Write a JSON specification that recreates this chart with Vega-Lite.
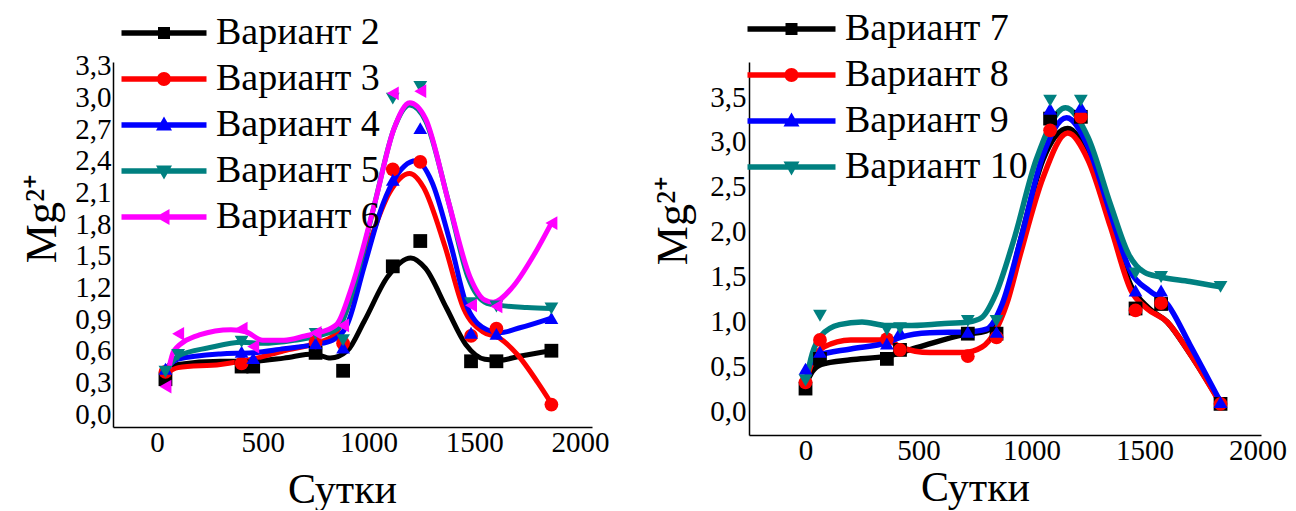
{
  "$schema": "https://vega.github.io/schema/vega-lite/v6.json",
  "autosize": {"type": "pad"},
  "padding": {"left": 20, "top": 10, "right": 0, "bottom": 0},
  "background": "white",
  "bounds": "flush",
  "spacing": 157,
  "resolve": {"scale": {"color": "independent", "shape": "independent"}, "legend": {"color": "independent", "shape": "independent"}},
  "config": {
    "view": {"stroke": null},
    "font": "Liberation Serif",
    "axis": {
      "labelFont": "Liberation Serif", "labelFontSize": 29, "labelColor": "#000000",
      "titleFont": "Liberation Serif", "titleFontWeight": "normal", "titleColor": "#000000",
      "domainColor": "#000000", "domainWidth": 1.5, "ticks": false, "grid": false,
      "labelOverlap": false, "labelFlush": false, "labelBound": false
    },
    "legend": {"labelFont": "Liberation Serif"}
  },
  "datasets": {
    "pointsL": [
      {"s": "Вариант 2", "d": 40, "v": 0.33}, {"s": "Вариант 2", "d": 400, "v": 0.45}, {"s": "Вариант 2", "d": 455, "v": 0.45}, {"s": "Вариант 2", "d": 750, "v": 0.58}, {"s": "Вариант 2", "d": 880, "v": 0.41}, {"s": "Вариант 2", "d": 1115, "v": 1.40}, {"s": "Вариант 2", "d": 1245, "v": 1.64}, {"s": "Вариант 2", "d": 1485, "v": 0.50}, {"s": "Вариант 2", "d": 1605, "v": 0.50}, {"s": "Вариант 2", "d": 1865, "v": 0.60},
      {"s": "Вариант 3", "d": 40, "v": 0.40}, {"s": "Вариант 3", "d": 400, "v": 0.48}, {"s": "Вариант 3", "d": 750, "v": 0.68}, {"s": "Вариант 3", "d": 880, "v": 0.67}, {"s": "Вариант 3", "d": 1115, "v": 2.32}, {"s": "Вариант 3", "d": 1245, "v": 2.39}, {"s": "Вариант 3", "d": 1485, "v": 0.74}, {"s": "Вариант 3", "d": 1605, "v": 0.81}, {"s": "Вариант 3", "d": 1865, "v": 0.09},
      {"s": "Вариант 4", "d": 40, "v": 0.43}, {"s": "Вариант 4", "d": 400, "v": 0.59}, {"s": "Вариант 4", "d": 455, "v": 0.53}, {"s": "Вариант 4", "d": 750, "v": 0.67}, {"s": "Вариант 4", "d": 880, "v": 0.63}, {"s": "Вариант 4", "d": 1115, "v": 2.22}, {"s": "Вариант 4", "d": 1245, "v": 2.71}, {"s": "Вариант 4", "d": 1485, "v": 0.77}, {"s": "Вариант 4", "d": 1605, "v": 0.76}, {"s": "Вариант 4", "d": 1865, "v": 0.91},
      {"s": "Вариант 5", "d": 40, "v": 0.40}, {"s": "Вариант 5", "d": 100, "v": 0.56}, {"s": "Вариант 5", "d": 400, "v": 0.685}, {"s": "Вариант 5", "d": 750, "v": 0.76}, {"s": "Вариант 5", "d": 880, "v": 0.70}, {"s": "Вариант 5", "d": 1115, "v": 2.99}, {"s": "Вариант 5", "d": 1245, "v": 3.10}, {"s": "Вариант 5", "d": 1485, "v": 1.05}, {"s": "Вариант 5", "d": 1605, "v": 1.02}, {"s": "Вариант 5", "d": 1865, "v": 1.00},
      {"s": "Вариант 6", "d": 40, "v": 0.26}, {"s": "Вариант 6", "d": 100, "v": 0.76}, {"s": "Вариант 6", "d": 400, "v": 0.81}, {"s": "Вариант 6", "d": 455, "v": 0.64}, {"s": "Вариант 6", "d": 750, "v": 0.77}, {"s": "Вариант 6", "d": 880, "v": 0.84}, {"s": "Вариант 6", "d": 1115, "v": 3.04}, {"s": "Вариант 6", "d": 1245, "v": 3.06}, {"s": "Вариант 6", "d": 1485, "v": 1.03}, {"s": "Вариант 6", "d": 1605, "v": 1.02}, {"s": "Вариант 6", "d": 1865, "v": 1.81}
    ],
    "curveL": [
      {"s": "Вариант 2", "d": 40, "v": 0.36}, {"s": "Вариант 2", "d": 100, "v": 0.47}, {"s": "Вариант 2", "d": 300, "v": 0.50}, {"s": "Вариант 2", "d": 450, "v": 0.50}, {"s": "Вариант 2", "d": 600, "v": 0.53}, {"s": "Вариант 2", "d": 740, "v": 0.57}, {"s": "Вариант 2", "d": 820, "v": 0.53}, {"s": "Вариант 2", "d": 900, "v": 0.60}, {"s": "Вариант 2", "d": 980, "v": 0.88}, {"s": "Вариант 2", "d": 1090, "v": 1.30}, {"s": "Вариант 2", "d": 1200, "v": 1.48}, {"s": "Вариант 2", "d": 1270, "v": 1.38}, {"s": "Вариант 2", "d": 1370, "v": 1.00}, {"s": "Вариант 2", "d": 1460, "v": 0.66}, {"s": "Вариант 2", "d": 1550, "v": 0.52}, {"s": "Вариант 2", "d": 1620, "v": 0.51}, {"s": "Вариант 2", "d": 1720, "v": 0.55}, {"s": "Вариант 2", "d": 1865, "v": 0.60},
      {"s": "Вариант 3", "d": 40, "v": 0.38}, {"s": "Вариант 3", "d": 100, "v": 0.44}, {"s": "Вариант 3", "d": 300, "v": 0.47}, {"s": "Вариант 3", "d": 450, "v": 0.52}, {"s": "Вариант 3", "d": 600, "v": 0.60}, {"s": "Вариант 3", "d": 750, "v": 0.67}, {"s": "Вариант 3", "d": 840, "v": 0.75}, {"s": "Вариант 3", "d": 900, "v": 1.00}, {"s": "Вариант 3", "d": 1000, "v": 1.60}, {"s": "Вариант 3", "d": 1100, "v": 2.10}, {"s": "Вариант 3", "d": 1195, "v": 2.28}, {"s": "Вариант 3", "d": 1260, "v": 2.15}, {"s": "Вариант 3", "d": 1360, "v": 1.60}, {"s": "Вариант 3", "d": 1450, "v": 1.00}, {"s": "Вариант 3", "d": 1540, "v": 0.78}, {"s": "Вариант 3", "d": 1620, "v": 0.72}, {"s": "Вариант 3", "d": 1710, "v": 0.55}, {"s": "Вариант 3", "d": 1800, "v": 0.30}, {"s": "Вариант 3", "d": 1865, "v": 0.10},
      {"s": "Вариант 4", "d": 40, "v": 0.43}, {"s": "Вариант 4", "d": 100, "v": 0.52}, {"s": "Вариант 4", "d": 300, "v": 0.57}, {"s": "Вариант 4", "d": 450, "v": 0.58}, {"s": "Вариант 4", "d": 600, "v": 0.62}, {"s": "Вариант 4", "d": 750, "v": 0.66}, {"s": "Вариант 4", "d": 830, "v": 0.70}, {"s": "Вариант 4", "d": 900, "v": 0.85}, {"s": "Вариант 4", "d": 980, "v": 1.40}, {"s": "Вариант 4", "d": 1070, "v": 2.00}, {"s": "Вариант 4", "d": 1170, "v": 2.35}, {"s": "Вариант 4", "d": 1225, "v": 2.40}, {"s": "Вариант 4", "d": 1300, "v": 2.20}, {"s": "Вариант 4", "d": 1390, "v": 1.60}, {"s": "Вариант 4", "d": 1470, "v": 1.00}, {"s": "Вариант 4", "d": 1560, "v": 0.80}, {"s": "Вариант 4", "d": 1620, "v": 0.77}, {"s": "Вариант 4", "d": 1720, "v": 0.82}, {"s": "Вариант 4", "d": 1865, "v": 0.91},
      {"s": "Вариант 5", "d": 40, "v": 0.40}, {"s": "Вариант 5", "d": 100, "v": 0.55}, {"s": "Вариант 5", "d": 250, "v": 0.63}, {"s": "Вариант 5", "d": 400, "v": 0.68}, {"s": "Вариант 5", "d": 500, "v": 0.67}, {"s": "Вариант 5", "d": 650, "v": 0.70}, {"s": "Вариант 5", "d": 780, "v": 0.75}, {"s": "Вариант 5", "d": 860, "v": 0.82}, {"s": "Вариант 5", "d": 930, "v": 1.20}, {"s": "Вариант 5", "d": 1030, "v": 2.00}, {"s": "Вариант 5", "d": 1120, "v": 2.70}, {"s": "Вариант 5", "d": 1195, "v": 2.93}, {"s": "Вариант 5", "d": 1270, "v": 2.78}, {"s": "Вариант 5", "d": 1380, "v": 2.00}, {"s": "Вариант 5", "d": 1470, "v": 1.30}, {"s": "Вариант 5", "d": 1560, "v": 1.05}, {"s": "Вариант 5", "d": 1620, "v": 1.03}, {"s": "Вариант 5", "d": 1750, "v": 1.01}, {"s": "Вариант 5", "d": 1865, "v": 1.00},
      {"s": "Вариант 6", "d": 40, "v": 0.26}, {"s": "Вариант 6", "d": 80, "v": 0.60}, {"s": "Вариант 6", "d": 200, "v": 0.75}, {"s": "Вариант 6", "d": 350, "v": 0.80}, {"s": "Вариант 6", "d": 420, "v": 0.78}, {"s": "Вариант 6", "d": 500, "v": 0.70}, {"s": "Вариант 6", "d": 600, "v": 0.70}, {"s": "Вариант 6", "d": 700, "v": 0.74}, {"s": "Вариант 6", "d": 780, "v": 0.78}, {"s": "Вариант 6", "d": 850, "v": 0.85}, {"s": "Вариант 6", "d": 920, "v": 1.20}, {"s": "Вариант 6", "d": 1030, "v": 2.00}, {"s": "Вариант 6", "d": 1120, "v": 2.70}, {"s": "Вариант 6", "d": 1195, "v": 2.95}, {"s": "Вариант 6", "d": 1270, "v": 2.80}, {"s": "Вариант 6", "d": 1380, "v": 2.00}, {"s": "Вариант 6", "d": 1480, "v": 1.30}, {"s": "Вариант 6", "d": 1550, "v": 1.08}, {"s": "Вариант 6", "d": 1590, "v": 1.06}, {"s": "Вариант 6", "d": 1680, "v": 1.20}, {"s": "Вариант 6", "d": 1780, "v": 1.50}, {"s": "Вариант 6", "d": 1865, "v": 1.81}
    ],
    "pointsR": [
      {"s": "Вариант 7", "d": 0, "v": 0.26}, {"s": "Вариант 7", "d": 64, "v": 0.59}, {"s": "Вариант 7", "d": 360, "v": 0.59}, {"s": "Вариант 7", "d": 418, "v": 0.69}, {"s": "Вариант 7", "d": 718, "v": 0.87}, {"s": "Вариант 7", "d": 845, "v": 0.87}, {"s": "Вариант 7", "d": 1082, "v": 3.26}, {"s": "Вариант 7", "d": 1218, "v": 3.28}, {"s": "Вариант 7", "d": 1460, "v": 1.15}, {"s": "Вариант 7", "d": 1573, "v": 1.20}, {"s": "Вариант 7", "d": 1836, "v": 0.09},
      {"s": "Вариант 8", "d": 0, "v": 0.33}, {"s": "Вариант 8", "d": 64, "v": 0.80}, {"s": "Вариант 8", "d": 360, "v": 0.81}, {"s": "Вариант 8", "d": 418, "v": 0.69}, {"s": "Вариант 8", "d": 718, "v": 0.62}, {"s": "Вариант 8", "d": 845, "v": 0.83}, {"s": "Вариант 8", "d": 1082, "v": 3.13}, {"s": "Вариант 8", "d": 1218, "v": 3.28}, {"s": "Вариант 8", "d": 1460, "v": 1.13}, {"s": "Вариант 8", "d": 1573, "v": 1.21}, {"s": "Вариант 8", "d": 1836, "v": 0.09},
      {"s": "Вариант 9", "d": 0, "v": 0.48}, {"s": "Вариант 9", "d": 64, "v": 0.67}, {"s": "Вариант 9", "d": 360, "v": 0.76}, {"s": "Вариант 9", "d": 418, "v": 0.89}, {"s": "Вариант 9", "d": 718, "v": 0.89}, {"s": "Вариант 9", "d": 845, "v": 0.89}, {"s": "Вариант 9", "d": 1082, "v": 3.37}, {"s": "Вариант 9", "d": 1218, "v": 3.39}, {"s": "Вариант 9", "d": 1460, "v": 1.35}, {"s": "Вариант 9", "d": 1573, "v": 1.35}, {"s": "Вариант 9", "d": 1836, "v": 0.11},
      {"s": "Вариант 10", "d": 0, "v": 0.35}, {"s": "Вариант 10", "d": 64, "v": 1.07}, {"s": "Вариант 10", "d": 360, "v": 0.91}, {"s": "Вариант 10", "d": 418, "v": 0.93}, {"s": "Вариант 10", "d": 718, "v": 1.01}, {"s": "Вариант 10", "d": 845, "v": 1.01}, {"s": "Вариант 10", "d": 1082, "v": 3.46}, {"s": "Вариант 10", "d": 1218, "v": 3.46}, {"s": "Вариант 10", "d": 1460, "v": 1.54}, {"s": "Вариант 10", "d": 1573, "v": 1.50}, {"s": "Вариант 10", "d": 1836, "v": 1.39}
    ],
    "curveR": [
      {"s": "Вариант 7", "d": 0, "v": 0.30}, {"s": "Вариант 7", "d": 30, "v": 0.45}, {"s": "Вариант 7", "d": 70, "v": 0.53}, {"s": "Вариант 7", "d": 200, "v": 0.58}, {"s": "Вариант 7", "d": 360, "v": 0.62}, {"s": "Вариант 7", "d": 500, "v": 0.72}, {"s": "Вариант 7", "d": 700, "v": 0.86}, {"s": "Вариант 7", "d": 800, "v": 0.90}, {"s": "Вариант 7", "d": 870, "v": 1.10}, {"s": "Вариант 7", "d": 950, "v": 1.90}, {"s": "Вариант 7", "d": 1050, "v": 2.80}, {"s": "Вариант 7", "d": 1160, "v": 3.15}, {"s": "Вариант 7", "d": 1250, "v": 2.85}, {"s": "Вариант 7", "d": 1350, "v": 2.10}, {"s": "Вариант 7", "d": 1440, "v": 1.40}, {"s": "Вариант 7", "d": 1520, "v": 1.15}, {"s": "Вариант 7", "d": 1600, "v": 1.00}, {"s": "Вариант 7", "d": 1700, "v": 0.65}, {"s": "Вариант 7", "d": 1836, "v": 0.10},
      {"s": "Вариант 8", "d": 0, "v": 0.33}, {"s": "Вариант 8", "d": 40, "v": 0.62}, {"s": "Вариант 8", "d": 80, "v": 0.72}, {"s": "Вариант 8", "d": 200, "v": 0.80}, {"s": "Вариант 8", "d": 360, "v": 0.80}, {"s": "Вариант 8", "d": 420, "v": 0.72}, {"s": "Вариант 8", "d": 550, "v": 0.66}, {"s": "Вариант 8", "d": 700, "v": 0.66}, {"s": "Вариант 8", "d": 780, "v": 0.72}, {"s": "Вариант 8", "d": 840, "v": 0.90}, {"s": "Вариант 8", "d": 890, "v": 1.20}, {"s": "Вариант 8", "d": 950, "v": 1.75}, {"s": "Вариант 8", "d": 1050, "v": 2.60}, {"s": "Вариант 8", "d": 1160, "v": 3.10}, {"s": "Вариант 8", "d": 1250, "v": 2.80}, {"s": "Вариант 8", "d": 1350, "v": 2.05}, {"s": "Вариант 8", "d": 1440, "v": 1.35}, {"s": "Вариант 8", "d": 1510, "v": 1.15}, {"s": "Вариант 8", "d": 1600, "v": 1.00}, {"s": "Вариант 8", "d": 1700, "v": 0.65}, {"s": "Вариант 8", "d": 1836, "v": 0.09},
      {"s": "Вариант 9", "d": 0, "v": 0.45}, {"s": "Вариант 9", "d": 50, "v": 0.62}, {"s": "Вариант 9", "d": 200, "v": 0.70}, {"s": "Вариант 9", "d": 360, "v": 0.77}, {"s": "Вариант 9", "d": 420, "v": 0.83}, {"s": "Вариант 9", "d": 550, "v": 0.88}, {"s": "Вариант 9", "d": 720, "v": 0.89}, {"s": "Вариант 9", "d": 800, "v": 0.92}, {"s": "Вариант 9", "d": 870, "v": 1.20}, {"s": "Вариант 9", "d": 950, "v": 1.90}, {"s": "Вариант 9", "d": 1050, "v": 2.85}, {"s": "Вариант 9", "d": 1155, "v": 3.27}, {"s": "Вариант 9", "d": 1250, "v": 2.95}, {"s": "Вариант 9", "d": 1350, "v": 2.20}, {"s": "Вариант 9", "d": 1440, "v": 1.55}, {"s": "Вариант 9", "d": 1520, "v": 1.35}, {"s": "Вариант 9", "d": 1600, "v": 1.20}, {"s": "Вариант 9", "d": 1700, "v": 0.75}, {"s": "Вариант 9", "d": 1836, "v": 0.11},
      {"s": "Вариант 10", "d": 0, "v": 0.32}, {"s": "Вариант 10", "d": 30, "v": 0.65}, {"s": "Вариант 10", "d": 70, "v": 0.85}, {"s": "Вариант 10", "d": 150, "v": 0.97}, {"s": "Вариант 10", "d": 250, "v": 1.00}, {"s": "Вариант 10", "d": 360, "v": 0.96}, {"s": "Вариант 10", "d": 450, "v": 0.96}, {"s": "Вариант 10", "d": 600, "v": 0.98}, {"s": "Вариант 10", "d": 720, "v": 1.00}, {"s": "Вариант 10", "d": 780, "v": 1.05}, {"s": "Вариант 10", "d": 840, "v": 1.30}, {"s": "Вариант 10", "d": 920, "v": 1.90}, {"s": "Вариант 10", "d": 1020, "v": 2.80}, {"s": "Вариант 10", "d": 1150, "v": 3.38}, {"s": "Вариант 10", "d": 1250, "v": 3.05}, {"s": "Вариант 10", "d": 1350, "v": 2.30}, {"s": "Вариант 10", "d": 1430, "v": 1.75}, {"s": "Вариант 10", "d": 1500, "v": 1.55}, {"s": "Вариант 10", "d": 1570, "v": 1.50}, {"s": "Вариант 10", "d": 1700, "v": 1.45}, {"s": "Вариант 10", "d": 1836, "v": 1.39}
    ]
  },
  "hconcat": [
    {
      "width": 479,
      "height": 365,
      "resolve": {"scale": {"color": "independent", "shape": "independent"}},
      "encoding": {
        "x": {"field": "d", "type": "quantitative", "scale": {"domain": [-208, 2057], "nice": false, "zero": false},
          "axis": {"values": [0, 500, 1000, 1500, 2000], "format": "d", "labelFont": "Liberation Serif", "labelFontSize": 29, "labelPadding": 1, "title": "Сутки", "titleFontSize": 42, "titleX": 229, "titleY": 75, "titleBaseline": "alphabetic", "titleAlign": "center", "titleAnchor": null}},
        "y": {"field": "v", "type": "quantitative", "scale": {"domain": [-0.123, 3.337], "nice": false, "zero": false},
          "axis": {"values": [0, 0.3, 0.6, 0.9, 1.2, 1.5, 1.8, 2.1, 2.4, 2.7, 3.0, 3.3], "labelExpr": "replace(format(datum.value, '.1f'), '.', ',')", "labelFont": "Liberation Serif", "labelFontSize": 29, "labelPadding": 2, "title": "Mg²⁺", "titleFontSize": 44, "titleAngle": 270, "titleX": -58, "titleY": 156, "titleBaseline": "alphabetic", "titleAlign": "center", "titleAnchor": null}}
      },
      "layer": [
        {
          "data": {"name": "pointsL"},
          "transform": [{"filter": "datum.v > 100"}],
          "mark": {"type": "point", "filled": true, "size": 400, "opacity": 1},
          "encoding": {
            "color": {"field": "s", "type": "nominal", "scale": {"domain": ["Вариант 2", "Вариант 3", "Вариант 4", "Вариант 5", "Вариант 6"], "range": ["#000000", "#ff0000", "#0000ff", "#008080", "#ff00ff"]},
              "legend": {"orient": "none", "legendX": 32, "legendY": -48, "title": null, "symbolSize": 400, "labelFont": "Liberation Serif", "labelFontSize": 38, "labelColor": "#000000", "labelOffset": 33, "rowPadding": 8, "padding": 0, "labelLimit": 0, "symbolStrokeWidth": 0, "symbolOpacity": 1}},
            "shape": {"field": "s", "type": "nominal", "scale": {"domain": ["Вариант 2", "Вариант 3", "Вариант 4", "Вариант 5", "Вариант 6"], "range": [
                "M-4.25,-0.27H4.25V0.27H-4.25ZM-0.6,-0.6H0.6V0.6H-0.6Z",
                "M-4.25,-0.27H4.25V0.27H-4.25ZM-0.7,0A0.7,0.7,0,1,1,0.7,0A0.7,0.7,0,1,1,-0.7,0Z",
                "M-4.25,-0.27H4.25V0.27H-4.25ZM0,-0.85L0.8,0.55L-0.8,0.55Z",
                "M-4.25,-0.27H4.25V0.27H-4.25ZM0,0.85L-0.8,-0.55L0.8,-0.55Z",
                "M-4.25,-0.27H4.25V0.27H-4.25ZM-0.85,0L0.55,-0.8L0.55,0.8Z"]},
              "legend": {"orient": "none", "legendX": 32, "legendY": -48, "title": null, "symbolSize": 400, "labelFont": "Liberation Serif", "labelFontSize": 38, "labelColor": "#000000", "labelOffset": 33, "rowPadding": 8, "padding": 0, "labelLimit": 0, "symbolStrokeWidth": 0, "symbolOpacity": 1}}
          }
        },
        {
          "data": {"name": "curveL"},
          "mark": {"type": "line", "interpolate": "monotone", "strokeWidth": 5},
          "encoding": {
            "color": {"field": "s", "type": "nominal", "scale": {"domain": ["Вариант 2", "Вариант 3", "Вариант 4", "Вариант 5", "Вариант 6"], "range": ["#000000", "#ff0000", "#0000ff", "#008080", "#ff00ff"]}, "legend": null}
          }
        },
        {
          "data": {"name": "pointsL"},
          "mark": {"type": "point", "filled": true, "size": 190, "opacity": 1},
          "encoding": {
            "color": {"field": "s", "type": "nominal", "scale": {"domain": ["Вариант 2", "Вариант 3", "Вариант 4", "Вариант 5", "Вариант 6"], "range": ["#000000", "#ff0000", "#0000ff", "#008080", "#ff00ff"]}, "legend": null},
            "shape": {"field": "s", "type": "nominal", "scale": {"domain": ["Вариант 2", "Вариант 3", "Вариант 4", "Вариант 5", "Вариант 6"], "range": ["square", "circle", "triangle-up", "triangle-down", "triangle-left"]}, "legend": null}
          }
        }
      ]
    },
    {
      "width": 512,
      "height": 373,
      "resolve": {"scale": {"color": "independent", "shape": "independent"}},
      "encoding": {
        "x": {"field": "d", "type": "quantitative", "scale": {"domain": [-250, 2015], "nice": false, "zero": false},
          "axis": {"values": [0, 500, 1000, 1500, 2000], "format": "d", "labelFont": "Liberation Serif", "labelFontSize": 29, "labelPadding": 1, "title": "Сутки", "titleFontSize": 42, "titleX": 226, "titleY": 65, "titleBaseline": "alphabetic", "titleAlign": "center", "titleAnchor": null}},
        "y": {"field": "v", "type": "quantitative", "scale": {"domain": [-0.256, 3.889], "nice": false, "zero": false},
          "axis": {"values": [0, 0.5, 1.0, 1.5, 2.0, 2.5, 3.0, 3.5], "labelExpr": "replace(format(datum.value, '.1f'), '.', ',')", "labelFont": "Liberation Serif", "labelFontSize": 29, "labelPadding": 3, "title": "Mg²⁺", "titleFontSize": 44, "titleAngle": 270, "titleX": -63, "titleY": 158, "titleBaseline": "alphabetic", "titleAlign": "center", "titleAnchor": null}}
      },
      "layer": [
        {
          "data": {"name": "pointsR"},
          "transform": [{"filter": "datum.v > 100"}],
          "mark": {"type": "point", "filled": true, "size": 400, "opacity": 1},
          "encoding": {
            "color": {"field": "s", "type": "nominal", "scale": {"domain": ["Вариант 7", "Вариант 8", "Вариант 9", "Вариант 10"], "range": ["#000000", "#ff0000", "#0000ff", "#008080"]},
              "legend": {"orient": "none", "legendX": 23.5, "legendY": -52, "title": null, "symbolSize": 400, "labelFont": "Liberation Serif", "labelFontSize": 38, "labelColor": "#000000", "labelOffset": 34.5, "rowPadding": 8, "padding": 0, "labelLimit": 0, "symbolStrokeWidth": 0, "symbolOpacity": 1}},
            "shape": {"field": "s", "type": "nominal", "scale": {"domain": ["Вариант 7", "Вариант 8", "Вариант 9", "Вариант 10"], "range": [
                "M-4.4,-0.27H4.4V0.27H-4.4ZM-0.6,-0.6H0.6V0.6H-0.6Z",
                "M-4.4,-0.27H4.4V0.27H-4.4ZM-0.7,0A0.7,0.7,0,1,1,0.7,0A0.7,0.7,0,1,1,-0.7,0Z",
                "M-4.4,-0.27H4.4V0.27H-4.4ZM0,-0.85L0.8,0.55L-0.8,0.55Z",
                "M-4.4,-0.27H4.4V0.27H-4.4ZM0,0.85L-0.8,-0.55L0.8,-0.55Z"]},
              "legend": {"orient": "none", "legendX": 23.5, "legendY": -52, "title": null, "symbolSize": 400, "labelFont": "Liberation Serif", "labelFontSize": 38, "labelColor": "#000000", "labelOffset": 34.5, "rowPadding": 8, "padding": 0, "labelLimit": 0, "symbolStrokeWidth": 0, "symbolOpacity": 1}}
          }
        },
        {
          "data": {"name": "curveR"},
          "mark": {"type": "line", "interpolate": "monotone", "strokeWidth": 5.5},
          "encoding": {
            "color": {"field": "s", "type": "nominal", "scale": {"domain": ["Вариант 7", "Вариант 8", "Вариант 9", "Вариант 10"], "range": ["#000000", "#ff0000", "#0000ff", "#008080"]}, "legend": null}
          }
        },
        {
          "data": {"name": "pointsR"},
          "mark": {"type": "point", "filled": true, "size": 190, "opacity": 1},
          "encoding": {
            "color": {"field": "s", "type": "nominal", "scale": {"domain": ["Вариант 7", "Вариант 8", "Вариант 9", "Вариант 10"], "range": ["#000000", "#ff0000", "#0000ff", "#008080"]}, "legend": null},
            "shape": {"field": "s", "type": "nominal", "scale": {"domain": ["Вариант 7", "Вариант 8", "Вариант 9", "Вариант 10"], "range": ["square", "circle", "triangle-up", "triangle-down"]}, "legend": null}
          }
        }
      ]
    }
  ]
}
